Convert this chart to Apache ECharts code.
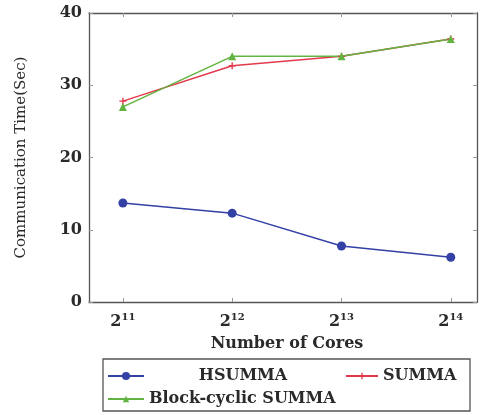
<!DOCTYPE html>
<html>
<head>
<meta charset="utf-8">
<script src="https://cdn.jsdelivr.net/npm/echarts@6/dist/echarts.min.js"></script>
<style>
  html, body { margin: 0; padding: 0; background: #fff; }
  #main { width: 480px; height: 415px; }
</style>
</head>
<body>
<div id="main"></div>
<script>
// exponents of 2 for the number of cores
const coreExps = [11, 12, 13, 14];
const hsumma = [13.7, 12.3, 7.75, 6.2];
const summa = [27.8, 32.7, 34.0, 36.4];
const blockCyclic = [27.0, 34.0, 34.0, 36.4];

const serif = 'DejaVu Serif';
const frame = '#555';

const toPts = vals => coreExps.map((e, i) => [e, vals[i]]);

const chart = echarts.init(document.getElementById('main'));

const plusPath = 'path://M4,0 L6,0 L6,4 L10,4 L10,6 L6,6 L6,10 L4,10 L4,6 L0,6 L0,4 L4,4 Z';

const legendText = {
  fontFamily: serif,
  fontSize: 16,
  fontWeight: 'bold',
  color: '#2a2a2a',
};

const option = {
  animation: false,
  grid: { left: 89, top: 13, right: 3, bottom: 113 },
  xAxis: [
    {
      type: 'value',
      min: 10.69,
      max: 14.24,
      splitLine: { show: false },
      axisLine: { onZero: false, lineStyle: { color: frame, width: 1.3 } },
      axisTick: { inside: true, length: 4, customValues: coreExps, lineStyle: { color: '#999' } },
      axisLabel: {
        customValues: coreExps,
        margin: 10,
        formatter: v => '{b|2}{s|' + v + '}',
        rich: {
          b: { fontFamily: serif, fontSize: 16, fontWeight: 'bold', color: '#2a2a2a' },
          s: { fontFamily: serif, fontSize: 10, fontWeight: 'bold', color: '#2a2a2a', padding: [0, 0, 10, 0] },
        },
      },
      name: 'Number of Cores',
      nameLocation: 'middle',
      nameGap: 34,
      nameTextStyle: { fontFamily: serif, fontSize: 16, fontWeight: 'bold', color: '#2a2a2a', padding: [0, 0, 0, 8] },
    },
    {
      type: 'value',
      position: 'top',
      min: 10.69,
      max: 14.24,
      splitLine: { show: false },
      axisLine: { onZero: false, lineStyle: { color: frame, width: 1.3 } },
      axisTick: { inside: true, length: 4, customValues: coreExps, lineStyle: { color: '#999' } },
      axisLabel: { show: false },
    },
  ],
  yAxis: [
    {
      type: 'value',
      min: 0,
      max: 40,
      interval: 10,
      splitLine: { show: false },
      axisLine: { show: true, onZero: false, lineStyle: { color: frame, width: 1.3 } },
      axisTick: { show: true, inside: true, length: 4, lineStyle: { color: '#999' } },
      axisLabel: {
        margin: 7,
        fontFamily: serif,
        fontSize: 16,
        fontWeight: 'bold',
        color: '#2a2a2a',
      },
      name: 'Communication Time(Sec)',
      nameLocation: 'middle',
      nameGap: 60,
      nameTextStyle: { fontFamily: serif, fontSize: 15, color: '#2a2a2a' },
    },
    {
      type: 'value',
      position: 'right',
      min: 0,
      max: 40,
      interval: 10,
      splitLine: { show: false },
      axisLine: { show: true, onZero: false, lineStyle: { color: frame, width: 1.3 } },
      axisTick: { show: true, inside: true, length: 4, lineStyle: { color: '#999' } },
      axisLabel: { show: false },
    },
  ],
  legend: [
    {
      data: ['HSUMMA'],
      left: 107,
      top: 368,
      padding: 0,
      itemWidth: 36,
      itemHeight: 10,
      formatter: n => '{c|' + n + '}',
      textStyle: Object.assign({}, legendText, {
        rich: { c: Object.assign({ width: 188, align: 'center' }, legendText) },
      }),
    },
    {
      data: ['SUMMA'],
      left: 345,
      top: 368,
      padding: 0,
      itemWidth: 32,
      itemHeight: 8,
      textStyle: legendText,
    },
    {
      data: ['Block-cyclic SUMMA'],
      left: 107,
      top: 391,
      padding: 0,
      itemWidth: 36,
      itemHeight: 8,
      textStyle: legendText,
    },
  ],
  graphic: [
    {
      type: 'rect',
      shape: { x: 103, y: 359, width: 367, height: 52 },
      style: { fill: 'none', stroke: frame, lineWidth: 1.3 },
    },
  ],
  series: [
    {
      name: 'HSUMMA',
      type: 'line',
      data: toPts(hsumma),
      symbol: 'circle',
      symbolSize: 9,
      color: '#3340a6',
      lineStyle: { width: 1.5 },
    },
    {
      name: 'SUMMA',
      type: 'line',
      data: toPts(summa),
      symbol: plusPath,
      symbolSize: 7,
      color: '#e2394c',
      lineStyle: { width: 1.5 },
    },
    {
      name: 'Block-cyclic SUMMA',
      type: 'line',
      data: toPts(blockCyclic),
      symbol: 'triangle',
      symbolSize: 8,
      color: '#62b33f',
      lineStyle: { width: 1.5 },
    },
  ],
};

chart.setOption(option);
</script>
</body>
</html>
